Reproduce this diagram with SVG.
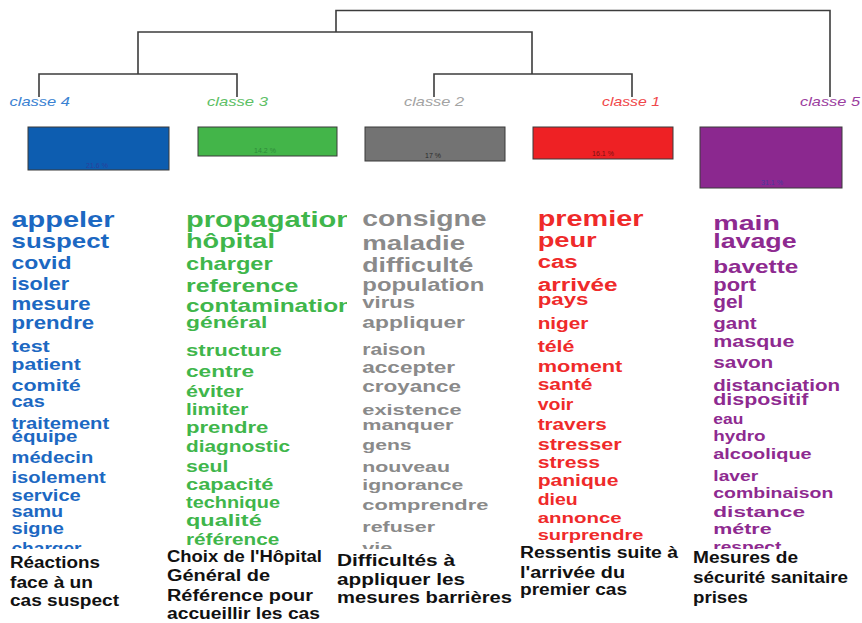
<svg xmlns="http://www.w3.org/2000/svg" width="862" height="623" viewBox="0 0 862 623">
<style>
.w{font-family:"Liberation Sans",Arial,sans-serif;font-weight:bold}
.lab{font-family:"Liberation Sans",Arial,sans-serif;font-style:italic;font-size:13px}
.pct{font-family:"Liberation Sans",Arial,sans-serif;font-size:7px;text-anchor:middle}
.cap{font-family:"Liberation Sans",Arial,sans-serif;font-weight:bold;font-size:16px;fill:#111}
.box{stroke:#3a3a3a;stroke-width:1}
.den{fill:none;stroke:#3c3c3c;stroke-width:1.6}
.c4{fill:#1c68c2}.c3{fill:#3fb64b}.c2{fill:#8a8a8a}.c1{fill:#ef2a2a}.c5{fill:#8e2a90}
</style>
<defs>
<clipPath id="k1"><rect x="0" y="195" width="180" height="354"/></clipPath>
<clipPath id="k2"><rect x="180" y="195" width="167" height="354"/></clipPath>
<clipPath id="k3"><rect x="350" y="195" width="180" height="354"/></clipPath>
<clipPath id="k4"><rect x="530" y="195" width="165" height="354"/></clipPath>
<clipPath id="k5"><rect x="700" y="195" width="162" height="354"/></clipPath>
</defs>
<rect width="862" height="623" fill="#fff"/>
<g id="connectors">
<path class="den" d="M336,32 V10.5 H830 V97"/>
<path class="den" d="M138,74 V32 H532 V74"/>
<path class="den" d="M39,97 V74 H237 V97"/>
<path class="den" d="M434,97 V74 H632 V97"/>
</g>
<g id="classe4">
<text class="lab" x="9.5" y="106" fill="#3a82d2" textLength="60.5" lengthAdjust="spacingAndGlyphs">classe  4</text>
<rect class="box" x="28" y="127" width="141" height="43" fill="#0d5db0"/>
<text class="pct" x="97" y="168" fill="#2a3f9a">21.6 %</text>
<g class="c4" clip-path="url(#k1)">
<text class="w" x="11.5" y="226.7" font-size="22" textLength="103" lengthAdjust="spacingAndGlyphs">appeler</text>
<text class="w" x="11.5" y="248.3" font-size="21" textLength="97.7" lengthAdjust="spacingAndGlyphs">suspect</text>
<text class="w" x="11.5" y="269" font-size="18" textLength="60" lengthAdjust="spacingAndGlyphs">covid</text>
<text class="w" x="11.5" y="290" font-size="18" textLength="57.7" lengthAdjust="spacingAndGlyphs">isoler</text>
<text class="w" x="11.5" y="310" font-size="18" textLength="79" lengthAdjust="spacingAndGlyphs">mesure</text>
<text class="w" x="11.5" y="329.3" font-size="18" textLength="82.7" lengthAdjust="spacingAndGlyphs">prendre</text>
<text class="w" x="11.5" y="351.7" font-size="17" textLength="38.3" lengthAdjust="spacingAndGlyphs">test</text>
<text class="w" x="11.5" y="370" font-size="17" textLength="69.3" lengthAdjust="spacingAndGlyphs">patient</text>
<text class="w" x="11.5" y="390.7" font-size="17" textLength="69.3" lengthAdjust="spacingAndGlyphs">comité</text>
<text class="w" x="11.5" y="406.7" font-size="16" textLength="33.3" lengthAdjust="spacingAndGlyphs">cas</text>
<text class="w" x="11.5" y="428.7" font-size="17" textLength="97.7" lengthAdjust="spacingAndGlyphs">traitement</text>
<text class="w" x="11.5" y="441.7" font-size="16" textLength="66" lengthAdjust="spacingAndGlyphs">équipe</text>
<text class="w" x="11.5" y="463.3" font-size="17" textLength="81.7" lengthAdjust="spacingAndGlyphs">médecin</text>
<text class="w" x="11.5" y="482.7" font-size="17" textLength="94.3" lengthAdjust="spacingAndGlyphs">isolement</text>
<text class="w" x="11.5" y="500.7" font-size="16" textLength="69.3" lengthAdjust="spacingAndGlyphs">service</text>
<text class="w" x="11.5" y="517.3" font-size="16" textLength="51.7" lengthAdjust="spacingAndGlyphs">samu</text>
<text class="w" x="11.5" y="534.3" font-size="16" textLength="52.3" lengthAdjust="spacingAndGlyphs">signe</text>
<text class="w" x="11.5" y="554" font-size="16" textLength="70" lengthAdjust="spacingAndGlyphs">charger</text>
</g>
<text class="cap" x="10" y="568" textLength="90" lengthAdjust="spacingAndGlyphs">Réactions</text>
<text class="cap" x="10" y="588" textLength="83" lengthAdjust="spacingAndGlyphs">face à un</text>
<text class="cap" x="10" y="606" textLength="109" lengthAdjust="spacingAndGlyphs">cas suspect</text>
</g>
<g id="classe3">
<text class="lab" x="207" y="106" fill="#5dc065" textLength="61" lengthAdjust="spacingAndGlyphs">classe  3</text>
<rect class="box" x="198" y="127" width="139" height="29" fill="#43b549"/>
<text class="pct" x="265" y="153" fill="#2e8a3a">14.2 %</text>
<g class="c3" clip-path="url(#k2)">
<text class="w" x="186" y="226.7" font-size="22" textLength="168" lengthAdjust="spacingAndGlyphs">propagation</text>
<text class="w" x="186" y="248.3" font-size="21" textLength="89" lengthAdjust="spacingAndGlyphs">hôpital</text>
<text class="w" x="186" y="270" font-size="19" textLength="86.7" lengthAdjust="spacingAndGlyphs">charger</text>
<text class="w" x="186" y="291.7" font-size="19" textLength="112.3" lengthAdjust="spacingAndGlyphs">reference</text>
<text class="w" x="186" y="311.7" font-size="19" textLength="167" lengthAdjust="spacingAndGlyphs">contamination</text>
<text class="w" x="186" y="328.3" font-size="17" textLength="81.3" lengthAdjust="spacingAndGlyphs">général</text>
<text class="w" x="186" y="356" font-size="17" textLength="95.7" lengthAdjust="spacingAndGlyphs">structure</text>
<text class="w" x="186" y="376.7" font-size="17" textLength="68" lengthAdjust="spacingAndGlyphs">centre</text>
<text class="w" x="186" y="396.7" font-size="16" textLength="57.3" lengthAdjust="spacingAndGlyphs">éviter</text>
<text class="w" x="186" y="415" font-size="16" textLength="62.3" lengthAdjust="spacingAndGlyphs">limiter</text>
<text class="w" x="186" y="433.3" font-size="16" textLength="82.3" lengthAdjust="spacingAndGlyphs">prendre</text>
<text class="w" x="186" y="451.7" font-size="16" textLength="104" lengthAdjust="spacingAndGlyphs">diagnostic</text>
<text class="w" x="186" y="471.7" font-size="16" textLength="42.3" lengthAdjust="spacingAndGlyphs">seul</text>
<text class="w" x="186" y="490" font-size="16" textLength="87.3" lengthAdjust="spacingAndGlyphs">capacité</text>
<text class="w" x="186" y="508.3" font-size="16" textLength="94" lengthAdjust="spacingAndGlyphs">technique</text>
<text class="w" x="186" y="526" font-size="16" textLength="75.7" lengthAdjust="spacingAndGlyphs">qualité</text>
<text class="w" x="186" y="545" font-size="16" textLength="93.3" lengthAdjust="spacingAndGlyphs">référence</text>
</g>
<text class="cap" x="167" y="562" textLength="155" lengthAdjust="spacingAndGlyphs">Choix de l'Hôpital</text>
<text class="cap" x="167" y="581" textLength="103" lengthAdjust="spacingAndGlyphs">Général de</text>
<text class="cap" x="167" y="601" textLength="146" lengthAdjust="spacingAndGlyphs">Référence pour</text>
<text class="cap" x="167" y="619" textLength="153" lengthAdjust="spacingAndGlyphs">accueillir les cas</text>
</g>
<g id="classe2">
<text class="lab" x="404" y="106" fill="#a3a3a3" textLength="60" lengthAdjust="spacingAndGlyphs">classe  2</text>
<rect class="box" x="365" y="127" width="140" height="34" fill="#737373"/>
<text class="pct" x="433" y="158" fill="#2a2a2a">17 %</text>
<g class="c2" clip-path="url(#k3)">
<text class="w" x="362.3" y="226" font-size="22" textLength="124.3" lengthAdjust="spacingAndGlyphs">consigne</text>
<text class="w" x="362.3" y="250" font-size="21" textLength="102.7" lengthAdjust="spacingAndGlyphs">maladie</text>
<text class="w" x="362.3" y="271.7" font-size="21" textLength="111" lengthAdjust="spacingAndGlyphs">difficulté</text>
<text class="w" x="362.3" y="290.7" font-size="19" textLength="122" lengthAdjust="spacingAndGlyphs">population</text>
<text class="w" x="362.3" y="308.3" font-size="17" textLength="52.7" lengthAdjust="spacingAndGlyphs">virus</text>
<text class="w" x="362.3" y="328.3" font-size="17" textLength="102.7" lengthAdjust="spacingAndGlyphs">appliquer</text>
<text class="w" x="362.3" y="355" font-size="16" textLength="63.3" lengthAdjust="spacingAndGlyphs">raison</text>
<text class="w" x="362.3" y="373.3" font-size="16" textLength="92.7" lengthAdjust="spacingAndGlyphs">accepter</text>
<text class="w" x="362.3" y="391.7" font-size="16" textLength="98.7" lengthAdjust="spacingAndGlyphs">croyance</text>
<text class="w" x="362.3" y="415" font-size="15.5" textLength="99.3" lengthAdjust="spacingAndGlyphs">existence</text>
<text class="w" x="362.3" y="430" font-size="15.5" textLength="91" lengthAdjust="spacingAndGlyphs">manquer</text>
<text class="w" x="362.3" y="450" font-size="15.5" textLength="49.3" lengthAdjust="spacingAndGlyphs">gens</text>
<text class="w" x="362.3" y="471.7" font-size="15.5" textLength="87.7" lengthAdjust="spacingAndGlyphs">nouveau</text>
<text class="w" x="362.3" y="490" font-size="15.5" textLength="101" lengthAdjust="spacingAndGlyphs">ignorance</text>
<text class="w" x="362.3" y="510" font-size="15.5" textLength="126" lengthAdjust="spacingAndGlyphs">comprendre</text>
<text class="w" x="362.3" y="531.7" font-size="15.5" textLength="72.7" lengthAdjust="spacingAndGlyphs">refuser</text>
<text class="w" x="362.3" y="553" font-size="15.5" textLength="30" lengthAdjust="spacingAndGlyphs">vie</text>
</g>
<text class="cap" x="337" y="566" textLength="118" lengthAdjust="spacingAndGlyphs">Difficultés à</text>
<text class="cap" x="337" y="585" textLength="128" lengthAdjust="spacingAndGlyphs">appliquer les</text>
<text class="cap" x="337" y="603" textLength="175" lengthAdjust="spacingAndGlyphs">mesures barrières</text>
</g>
<g id="classe1">
<text class="lab" x="602" y="106" fill="#f0474a" textLength="58" lengthAdjust="spacingAndGlyphs">classe  1</text>
<rect class="box" x="533" y="127" width="140" height="32" fill="#ee2124"/>
<text class="pct" x="603" y="156" fill="#7a1212">16.1 %</text>
<g class="c1" clip-path="url(#k4)">
<text class="w" x="537.7" y="226" font-size="22" textLength="105.7" lengthAdjust="spacingAndGlyphs">premier</text>
<text class="w" x="537.7" y="246.7" font-size="21" textLength="59" lengthAdjust="spacingAndGlyphs">peur</text>
<text class="w" x="537.7" y="268.3" font-size="18" textLength="40" lengthAdjust="spacingAndGlyphs">cas</text>
<text class="w" x="537.7" y="290.7" font-size="18" textLength="80" lengthAdjust="spacingAndGlyphs">arrivée</text>
<text class="w" x="537.7" y="305" font-size="17" textLength="50.7" lengthAdjust="spacingAndGlyphs">pays</text>
<text class="w" x="537.7" y="329.3" font-size="17" textLength="50.7" lengthAdjust="spacingAndGlyphs">niger</text>
<text class="w" x="537.7" y="351.7" font-size="16" textLength="36.7" lengthAdjust="spacingAndGlyphs">télé</text>
<text class="w" x="537.7" y="371.7" font-size="16" textLength="84.7" lengthAdjust="spacingAndGlyphs">moment</text>
<text class="w" x="537.7" y="390" font-size="16" textLength="54.7" lengthAdjust="spacingAndGlyphs">santé</text>
<text class="w" x="537.7" y="410" font-size="16" textLength="35.7" lengthAdjust="spacingAndGlyphs">voir</text>
<text class="w" x="537.7" y="430" font-size="16" textLength="69" lengthAdjust="spacingAndGlyphs">travers</text>
<text class="w" x="537.7" y="450" font-size="16" textLength="84" lengthAdjust="spacingAndGlyphs">stresser</text>
<text class="w" x="537.7" y="468.3" font-size="16" textLength="62.3" lengthAdjust="spacingAndGlyphs">stress</text>
<text class="w" x="537.7" y="486" font-size="16" textLength="80.7" lengthAdjust="spacingAndGlyphs">panique</text>
<text class="w" x="537.7" y="505" font-size="16" textLength="40" lengthAdjust="spacingAndGlyphs">dieu</text>
<text class="w" x="537.7" y="522.7" font-size="15.5" textLength="84" lengthAdjust="spacingAndGlyphs">annonce</text>
<text class="w" x="537.7" y="540" font-size="15.5" textLength="105.7" lengthAdjust="spacingAndGlyphs">surprendre</text>
</g>
<text class="cap" x="520" y="558" textLength="158" lengthAdjust="spacingAndGlyphs">Ressentis suite à</text>
<text class="cap" x="520" y="578" textLength="105" lengthAdjust="spacingAndGlyphs">l'arrivée du</text>
<text class="cap" x="520" y="595" textLength="107" lengthAdjust="spacingAndGlyphs">premier cas</text>
</g>
<g id="classe5">
<text class="lab" x="800" y="106" fill="#9b3ea0" textLength="60" lengthAdjust="spacingAndGlyphs">classe  5</text>
<rect class="box" x="700" y="127" width="142" height="61" fill="#8b288f"/>
<text class="pct" x="772" y="185" fill="#4a3a9a">31.1 %</text>
<g class="c5" clip-path="url(#k5)">
<text class="w" x="713.3" y="229.5" font-size="21" textLength="66.7" lengthAdjust="spacingAndGlyphs">main</text>
<text class="w" x="713.3" y="248" font-size="20" textLength="83.3" lengthAdjust="spacingAndGlyphs">lavage</text>
<text class="w" x="713.3" y="273.3" font-size="19" textLength="85" lengthAdjust="spacingAndGlyphs">bavette</text>
<text class="w" x="713.3" y="290.7" font-size="18" textLength="42.7" lengthAdjust="spacingAndGlyphs">port</text>
<text class="w" x="713.3" y="308.3" font-size="18" textLength="30" lengthAdjust="spacingAndGlyphs">gel</text>
<text class="w" x="713.3" y="329.3" font-size="16" textLength="43.3" lengthAdjust="spacingAndGlyphs">gant</text>
<text class="w" x="713.3" y="346.7" font-size="16" textLength="81" lengthAdjust="spacingAndGlyphs">masque</text>
<text class="w" x="713.3" y="368.3" font-size="16" textLength="60" lengthAdjust="spacingAndGlyphs">savon</text>
<text class="w" x="713.3" y="391" font-size="16" textLength="126.7" lengthAdjust="spacingAndGlyphs">distanciation</text>
<text class="w" x="713.3" y="405" font-size="16" textLength="95" lengthAdjust="spacingAndGlyphs">dispositif</text>
<text class="w" x="713.3" y="424" font-size="15.5" textLength="30" lengthAdjust="spacingAndGlyphs">eau</text>
<text class="w" x="713.3" y="440.7" font-size="15.5" textLength="52.3" lengthAdjust="spacingAndGlyphs">hydro</text>
<text class="w" x="713.3" y="459.3" font-size="15.5" textLength="98.3" lengthAdjust="spacingAndGlyphs">alcoolique</text>
<text class="w" x="713.3" y="480.7" font-size="15.5" textLength="45" lengthAdjust="spacingAndGlyphs">laver</text>
<text class="w" x="713.3" y="498.3" font-size="15.5" textLength="120" lengthAdjust="spacingAndGlyphs">combinaison</text>
<text class="w" x="713.3" y="516.7" font-size="15.5" textLength="91.7" lengthAdjust="spacingAndGlyphs">distance</text>
<text class="w" x="713.3" y="534" font-size="15.5" textLength="58.3" lengthAdjust="spacingAndGlyphs">métre</text>
<text class="w" x="713.3" y="552" font-size="15.5" textLength="68" lengthAdjust="spacingAndGlyphs">respect</text>
</g>
<text class="cap" x="693" y="563" textLength="105" lengthAdjust="spacingAndGlyphs">Mesures de</text>
<text class="cap" x="693" y="583" textLength="155" lengthAdjust="spacingAndGlyphs">sécurité sanitaire</text>
<text class="cap" x="693" y="603" textLength="55" lengthAdjust="spacingAndGlyphs">prises</text>
</g>
</svg>
